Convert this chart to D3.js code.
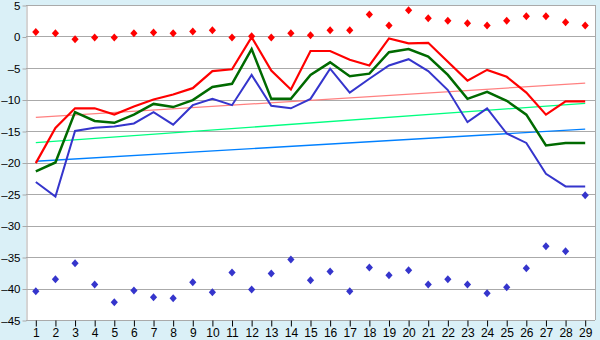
<!DOCTYPE html>
<html lang="en">
<head>
    <meta charset="UTF-8"/>
    <title>Chart</title>
    <script src="https://d3js.org/d3.v7.min.js"></script>
    <style>
        body { margin: 0; background: #daf0f7; }
        svg { display: block; font-family: "Liberation Sans", Arial, sans-serif; }
    </style>
</head>
<body>
<script>
    var w = 600;
    var h = 340;

    var categories = d3.range(1, 30);

    var redLine = [-20.1, -14.5, -11.4, -11.4, -12.4, -11.1, -10.0, -9.2, -8.2, -5.5,
                   -5.2, -0.1, -5.4, -8.4, -2.3, -2.3, -3.7, -4.6, -0.3, -1.1,
                   -1.0, -4.0, -7.0, -5.3, -6.4, -8.9, -12.4, -10.3, -10.3];
    var greenLine = [-21.4, -20.0, -12.0, -13.4, -13.7, -12.4, -10.7, -11.2, -10.1, -8.0,
                     -7.5, -2.0, -9.9, -9.9, -6.1, -4.1, -6.3, -5.9, -2.5, -2.0,
                     -3.2, -6.1, -9.9, -8.8, -10.2, -12.4, -17.3, -16.9, -16.9];
    var blueLine = [-23.1, -25.4, -15.0, -14.5, -14.3, -13.8, -12.0, -14.0, -10.9, -9.9,
                    -10.9, -6.1, -11.0, -11.4, -9.9, -5.1, -8.9, -6.7, -4.6, -3.6,
                    -5.5, -8.5, -13.6, -11.4, -15.4, -16.9, -21.8, -23.8, -23.8];
    var redPoints = [0.7, 0.5, -0.45, -0.15, -0.15, 0.5, 0.65, 0.5, 0.8, 1.0,
                     -0.15, 0.05, -0.15, 0.5, 0.2, 1.0, 1.0, 3.5, 1.75, 4.15,
                     2.9, 2.5, 2.1, 1.75, 2.5, 3.2, 3.2, 2.25, 1.75];
    var bluePoints = [-40.45, -38.55, -36.0, -39.35, -42.2, -40.3, -41.4, -41.55, -39.0, -40.6,
                      -37.45, -40.15, -37.6, -35.4, -38.7, -37.3, -40.45, -36.65, -37.9, -37.1,
                      -39.35, -38.55, -39.35, -40.75, -39.8, -36.8, -33.3, -34.1, -25.2];

    // trend lines: value at first and last category
    var redTrend = [-12.85, -7.4];
    var greenTrend = [-16.85, -10.6];
    var blueTrend = [-19.8, -14.7];

    var yTicks = [5, 0, -5, -10, -15, -20, -25, -30, -35, -40, -45];

    var plotLeft = 26, plotRight = 595, plotTop = 5, plotBottom = 320;

    var xScale = d3.scalePoint()
                   .domain(categories)
                   .range([plotLeft, plotRight])
                   .padding(0.5);

    var yScale = d3.scaleLinear()
                   .domain([-45, 5])
                   .range([plotBottom, plotTop]);

    var svg = d3.select("body")
                .append("svg")
                .attr("width", w)
                .attr("height", h);

    // plot background
    svg.append("rect")
       .attr("x", plotLeft)
       .attr("y", plotTop)
       .attr("width", plotRight - plotLeft)
       .attr("height", plotBottom - plotTop)
       .attr("fill", "white");

    // grid
    svg.selectAll(".grid")
       .data(yTicks)
       .enter()
       .append("line")
       .attr("x1", plotLeft)
       .attr("x2", plotRight)
       .attr("y1", function(d) { return Math.round(yScale(d)) + 0.5; })
       .attr("y2", function(d) { return Math.round(yScale(d)) + 0.5; })
       .attr("stroke", "#aaaaaa")
       .attr("stroke-width", 1);

    svg.append("line")
       .attr("x1", plotRight + 0.5).attr("x2", plotRight + 0.5)
       .attr("y1", plotTop).attr("y2", plotBottom)
       .attr("stroke", "#aaaaaa");

    // axes
    var yAxis = d3.axisLeft(yScale)
                  .tickValues(yTicks)
                  .tickSize(4)
                  .tickSizeOuter(0)
                  .tickPadding(2)
                  .tickFormat(function(d) { return String(d).replace("-", "\u2013"); });

    var yg = svg.append("g")
                .attr("transform", "translate(" + (plotLeft + 0.5) + ",0.5)")
                .call(yAxis);

    var xAxis = d3.axisBottom(xScale)
                  .tickSize(6)
                  .tickSizeOuter(0)
                  .tickPadding(2);

    var xg = svg.append("g")
                .attr("transform", "translate(0," + (plotBottom + 0.5) + ")")
                .call(xAxis);

    [yg, xg].forEach(function(g) {
        g.select(".domain").attr("stroke", "#aaaaaa");
        g.selectAll(".tick line").attr("stroke", "#000");
        g.selectAll(".tick text").attr("fill", "#000").attr("font-size", 12)
         .attr("font-family", "Liberation Sans, Arial, sans-serif");
    });
    yg.selectAll(".tick line").attr("stroke", "#aaaaaa");
    yg.selectAll(".tick text").attr("font-size", 11.5);
    xg.select(".domain").remove();

    // trend lines
    var trends = [[redTrend, "#ff8080"], [greenTrend, "#00ff80"], [blueTrend, "#0080ff"]];
    trends.forEach(function(t) {
        svg.append("line")
           .attr("x1", xScale(categories[0]))
           .attr("x2", xScale(categories[categories.length - 1]))
           .attr("y1", yScale(t[0][0]))
           .attr("y2", yScale(t[0][1]))
           .attr("stroke", t[1])
           .attr("stroke-width", 1.3);
    });

    var line = d3.line()
                 .x(function(d, i) { return xScale(categories[i]); })
                 .y(function(d) { return yScale(d); });

    var series = [[blueLine, "#3535cc", 2], [greenLine, "#006a00", 2.5], [redLine, "#ff0000", 2.2]];
    series.forEach(function(s) {
        svg.append("path")
           .datum(s[0])
           .attr("d", line)
           .attr("fill", "none")
           .attr("stroke", s[1])
           .attr("stroke-width", s[2]);
    });

    // square diamond markers
    var diamond = "M0,-4L3.6,0L0,4L-3.6,0Z";
    [[redPoints, "#ff0000"], [bluePoints, "#3535cc"]].forEach(function(p) {
        svg.selectAll(null)
           .data(p[0])
           .enter()
           .append("path")
           .attr("d", diamond)
           .attr("transform", function(d, i) {
               return "translate(" + xScale(categories[i]) + "," + yScale(d) + ")";
           })
           .attr("fill", p[1]);
    });
</script>
</body>
</html>
